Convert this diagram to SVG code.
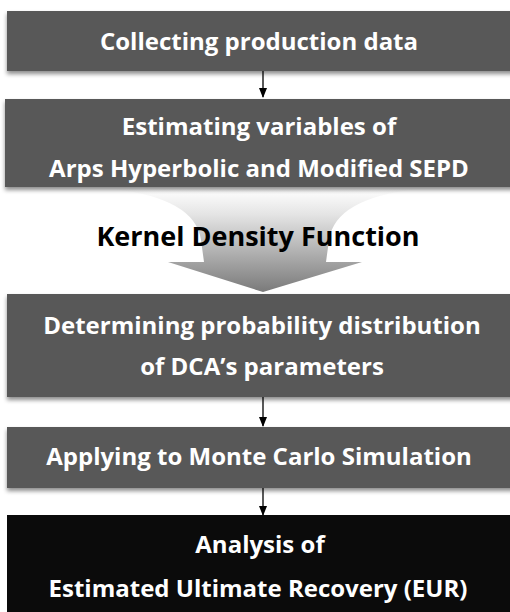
<svg xmlns="http://www.w3.org/2000/svg" width="510" height="612" viewBox="0 0 510 612">
<style>
.box{fill:#595959;}
.dark{fill:#0b0b0b;}
.t{font-family:"Open Sans","Noto Sans",sans-serif;font-weight:bold;font-size:24px;fill:#ffffff;text-anchor:middle;}
.k{font-family:"Open Sans","Noto Sans",sans-serif;font-weight:bold;font-size:27px;fill:#000000;text-anchor:middle;}
.c{stroke:#000;stroke-width:1.3;fill:none;marker-end:url(#ah);}
</style>
<defs>
<marker id="ah" markerWidth="10" markerHeight="8" refX="9" refY="4" orient="auto" markerUnits="userSpaceOnUse">
<path d="M0,0 L10,4 L0,8 Z" fill="#000"/>
</marker>
<filter id="sh" x="-5%" y="-10%" width="110%" height="130%">
<feDropShadow dx="0" dy="3" stdDeviation="2" flood-color="#000" flood-opacity="0.45"/>
</filter>
<linearGradient id="g" x1="0" y1="0" x2="0" y2="1">
<stop offset="0" stop-color="#ffffff"/>
<stop offset="0.25" stop-color="#e4e4e4"/>
<stop offset="1" stop-color="#7a7a7a"/>
</linearGradient>
</defs>
<g id="bigarrow">
<path d="M112,189 Q195,198 201,240 L204,262 L168,262 L263,292 L362,262 L326,262 L329,240 Q335,198 418,189 Z" fill="url(#g)"/>
</g>
<g id="kernel-label">
<text class="k" x="258" y="246">Kernel Density Function</text>
</g>
<g id="connectors">
<path class="c" d="M263,71 V97"/>
<path class="c" d="M263,397 V426"/>
<path class="c" d="M263,488 V515"/>
</g>
<g id="n1">
<rect class="box" x="7" y="11" width="510" height="60" filter="url(#sh)"/>
<text class="t" x="259" y="50">Collecting production data</text>
</g>
<g id="n2">
<rect class="box" x="5" y="99" width="512" height="88" filter="url(#sh)"/>
<text class="t" x="259" y="135">Estimating variables of</text>
<text class="t" x="259" y="177">Arps Hyperbolic and Modified SEPD</text>
</g>
<g id="n3">
<rect class="box" x="7" y="294" width="510" height="103" filter="url(#sh)"/>
<text class="t" x="262" y="334">Determining probability distribution</text>
<text class="t" x="262" y="375">of DCA’s parameters</text>
</g>
<g id="n4">
<rect class="box" x="7" y="427" width="510" height="61" filter="url(#sh)"/>
<text class="t" x="259" y="465">Applying to Monte Carlo Simulation</text>
</g>
<g id="n5">
<rect class="dark" x="7" y="515" width="510" height="100"/>
<text class="t" x="260" y="553">Analysis of</text>
<text class="t" x="258" y="597">Estimated Ultimate Recovery (EUR)</text>
</g>
</svg>
